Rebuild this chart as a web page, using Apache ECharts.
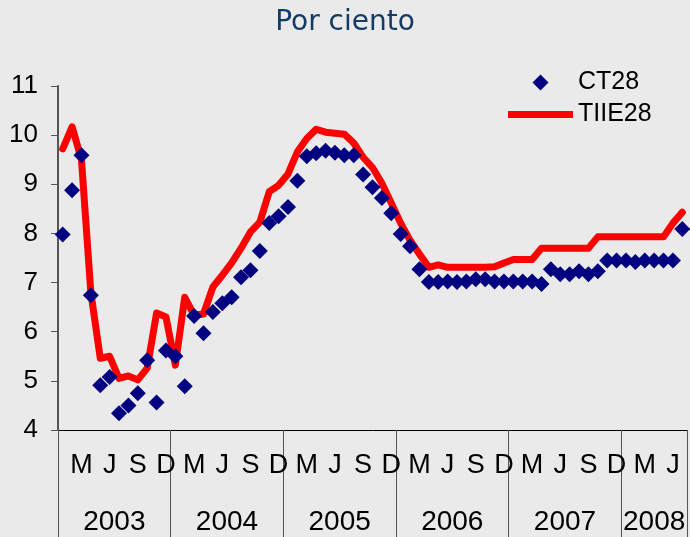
<!DOCTYPE html>
<html>
<head>
<meta charset="utf-8">
<script src="https://cdn.jsdelivr.net/npm/echarts@6/dist/echarts.min.js"></script>
<style>
html, body { margin: 0; padding: 0; background: #eaeaea; }
#chart { width: 690px; height: 537px; }
</style>
</head>
<body>
<div id="chart"></div>
<script>
// datos mensuales, enero 2003 - julio 2008
var years = ['2003', '2004', '2005', '2006', '2007', '2008'];
var monthLetters = ['E', 'F', 'M', 'A', 'M', 'J', 'J', 'A', 'S', 'O', 'N', 'D'];
var monthsIn2008 = 7;

var ct28 = [
  7.98, 8.88, 9.59, 6.74, 4.91, 5.08, 4.34, 4.50, 4.75, 5.42, 4.56, 5.62,
  5.50, 4.89, 6.32, 5.97, 6.40, 6.58, 6.70, 7.11, 7.25, 7.64, 8.21, 8.35,
  8.54, 9.07, 9.57, 9.63, 9.68, 9.64, 9.59, 9.59, 9.20, 8.94, 8.72, 8.41,
  7.99, 7.74, 7.27, 7.01, 7.01, 7.02, 7.01, 7.02, 7.07, 7.07, 7.02, 7.02,
  7.02, 7.02, 7.02, 6.97, 7.27, 7.17, 7.17, 7.23, 7.17, 7.23, 7.45, 7.45,
  7.45, 7.42, 7.45, 7.45, 7.45, 7.45, 8.09
];
var tiie28 = [
  9.72, 10.17, 9.50, 6.80, 5.46, 5.50, 5.05, 5.10, 5.02, 5.26, 6.38, 6.30,
  5.32, 6.70, 6.34, 6.36, 6.91, 7.15, 7.40, 7.70, 8.03, 8.23, 8.85, 8.98,
  9.21, 9.66, 9.93, 10.12, 10.06, 10.04, 10.02, 9.84, 9.55, 9.34, 9.02, 8.62,
  8.21, 7.86, 7.58, 7.31, 7.36, 7.31, 7.31, 7.31, 7.31, 7.31, 7.32, 7.40,
  7.47, 7.47, 7.47, 7.70, 7.70, 7.70, 7.70, 7.70, 7.70, 7.93, 7.93, 7.93,
  7.93, 7.93, 7.93, 7.93, 7.93, 8.21, 8.43
];

var categories = [];
years.forEach(function (y, k) {
  var n = k === years.length - 1 ? monthsIn2008 : 12;
  for (var m = 0; m < n; m++) categories.push(y + '-' + (m + 1));
});
// posicion (en meses) del centro de cada año -> etiqueta
var yearCenters = {};
years.forEach(function (y, k) {
  var n = k === years.length - 1 ? monthsIn2008 : 12;
  yearCenters[k * 12 + n / 2] = y;
});

var fontNarrow = '"Liberation Sans Narrow", "Liberation Sans", Arial, sans-serif';

var myChart = echarts.init(document.getElementById('chart'));
myChart.setOption({
  backgroundColor: '#eaeaea',
  animation: false,
  title: {
    text: 'Por ciento',
    left: 'center',
    top: 4,
    textStyle: { color: '#143b66', fontSize: 28, fontWeight: 'normal', fontFamily: '"DejaVu Sans", sans-serif' }
  },
  legend: {
    orient: 'vertical',
    left: 503,
    top: 65,
    itemWidth: 65,
    itemHeight: 16,
    itemGap: 7,
    textStyle: { color: '#000', fontSize: 25, fontFamily: fontNarrow, lineHeight: 20 },
    data: [
      { name: 'CT28', icon: 'path://M10,0L20,10L10,20L0,10Z', itemStyle: { color: '#000080', opacity: 1 } },
      { name: 'TIIE28', icon: 'path://M0,0L65,0L65,7L0,7Z', itemStyle: { color: '#ff0000' } }
    ]
  },
  grid: { left: 58, right: -3, top: 86, bottom: 107, containLabel: false },
  xAxis: [{
    type: 'category',
    data: categories,
    boundaryGap: true,
    axisLine: { lineStyle: { color: '#000', width: 1 } },
    axisTick: {
      show: true,
      length: 110,
      interval: function (i) { return i % 12 === 0; },
      lineStyle: { color: '#555' }
    },
    axisLabel: {
      interval: function (i) { return i % 3 === 2; },
      formatter: function (v, i) { return monthLetters[i % 12]; },
      color: '#000',
      fontSize: 27,
      fontFamily: fontNarrow,
      margin: 22
    }
  }, {
    type: 'value',
    position: 'bottom',
    min: 0,
    max: categories.length,
    interval: 0.5,
    axisLine: { show: false },
    axisTick: { show: false },
    splitLine: { show: false },
    axisLabel: {
      formatter: function (v) { return yearCenters[v] || ''; },
      color: '#000',
      fontSize: 28,
      fontFamily: fontNarrow,
      margin: 78
    }
  }],
  yAxis: {
    type: 'value',
    min: 4,
    max: 11,
    interval: 1,
    axisLine: { show: true, lineStyle: { color: '#555', width: 2 } },
    axisTick: { show: true, length: 7, lineStyle: { color: '#555' } },
    splitLine: { show: false },
    axisLabel: { color: '#000', fontSize: 26, fontFamily: fontNarrow, margin: 20 }
  },
  series: [{
    name: 'TIIE28',
    type: 'line',
    data: tiie28,
    showSymbol: false,
    symbol: 'none',
    z: 2,
    lineStyle: { color: '#ff0000', width: 7, cap: 'round', join: 'round' },
    itemStyle: { color: '#ff0000' }
  }, {
    name: 'CT28',
    type: 'scatter',
    data: ct28,
    symbol: 'diamond',
    symbolSize: 16,
    z: 3,
    itemStyle: { color: '#000080', opacity: 1 }
  }]
});
</script>
</body>
</html>
